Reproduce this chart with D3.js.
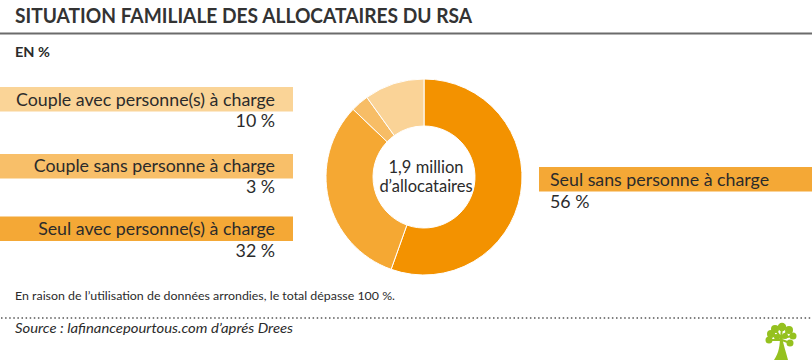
<!DOCTYPE html>
<html><head><meta charset="utf-8">
<script src="https://cdn.jsdelivr.net/npm/d3@7"></script>
<style>
html,body{margin:0;padding:0;background:#fff;}
svg{display:block;font-family:Lato,"Open Sans",sans-serif;}
</style></head>
<body>
<svg id="chart" width="812" height="360"></svg>
<script>
const categories = ["Seul sans personne à charge","Seul avec personne(s) à charge","Couple sans personne à charge","Couple avec personne(s) à charge"];
const values = [56, 32, 3, 10];
const valueLabels = ["56 %","32 %","3 %","10 %"];
const sliceColors = ["#f39200","#f5a833","#f7bd66","#fad397"];
const bandColors = ["#f4a836","#f4a836","#f8bf69","#fad497"];
const title = "SITUATION FAMILIALE DES ALLOCATAIRES DU RSA";
const subtitle = "EN %";
const centerText = ["1,9 million","d’allocataires"];
const footnote = "En raison de l’utilisation de données arrondies, le total dépasse 100 %.";
const source = "Source : lafinancepourtous.com d’aprés Drees";

const svg = d3.select("#chart");
const W = 812, H = 360;
const txt = "#2b2b2b";

// title
svg.append("text").attr("x",15).attr("y",23).attr("font-size",21).attr("font-weight",700)
  .attr("fill","#333").attr("textLength",457).attr("lengthAdjust","spacingAndGlyphs").text(title);
svg.append("rect").attr("x",0).attr("y",32.5).attr("width",W).attr("height",2).attr("fill","#6b6b6b");
svg.append("text").attr("x",15).attr("y",57).attr("font-size",14).attr("font-weight",700).attr("fill",txt)
  .attr("textLength",35).attr("lengthAdjust","spacingAndGlyphs").text(subtitle);

// donut
const cx = 424, cy = 177, rOuter = 98, rInner = 51;
const pie = d3.pie().sort(null).value(d=>d);
const arc = d3.arc().innerRadius(rInner).outerRadius(rOuter);
const g = svg.append("g").attr("transform",`translate(${cx},${cy})`);
g.selectAll("path").data(pie(values)).join("path")
  .attr("d",arc).attr("fill",(d,i)=>sliceColors[i])
  .attr("stroke","#fff").attr("stroke-width",1);
g.selectAll("text.c").data(centerText).join("text").attr("class","c")
  .attr("x",2).attr("y",(d,i)=>-4+i*19).attr("text-anchor","middle")
  .attr("font-size",16.5).attr("fill",txt).text(d=>d);

// left labels (categories index 3,2,1 top->bottom)
const leftItems = [
  {i:3, bandY:87, textY:106, pctY:127},
  {i:2, bandY:154, textY:172, pctY:193},
  {i:1, bandY:216.5, textY:235, pctY:257}
];
leftItems.forEach(it=>{
  svg.append("rect").attr("x",0).attr("y",it.bandY).attr("width",293).attr("height",24.5).attr("fill",bandColors[it.i]);
  svg.append("text").attr("x",275).attr("y",it.textY).attr("text-anchor","end").attr("font-size",17.8)
    .attr("fill",txt).text(categories[it.i]);
  svg.append("text").attr("x",275).attr("y",it.pctY).attr("text-anchor","end").attr("font-size",17.8)
    .attr("fill",txt).text(valueLabels[it.i]);
});
// right label
svg.append("rect").attr("x",539).attr("y",167).attr("width",W-539).attr("height",24.5).attr("fill",bandColors[0]);
svg.append("text").attr("x",550).attr("y",186).attr("font-size",17.8).attr("fill",txt).text(categories[0]);
svg.append("text").attr("x",550).attr("y",208).attr("font-size",17.8).attr("fill",txt).text(valueLabels[0]);

// footnote
svg.append("text").attr("x",15).attr("y",300).attr("font-size",11.5).attr("fill",txt)
  .attr("textLength",380).attr("lengthAdjust","spacingAndGlyphs").text(footnote);
svg.append("line").attr("x1",1).attr("x2",W).attr("y1",318).attr("y2",318)
  .attr("stroke","#555").attr("stroke-width",1.5).attr("stroke-dasharray","1.5,2.6");
svg.append("text").attr("x",15).attr("y",333).attr("font-size",13.5).attr("font-style","italic").attr("fill",txt)
  .attr("textLength",278).attr("lengthAdjust","spacingAndGlyphs").text(source);

// logo (tree)
const lg = svg.append("g").attr("fill","#95c11f").attr("transform","translate(781,340)");
lg.append("path").attr("d","M-7,20 C-2,13 -1,5 -1,-4 L1,-4 C2,4 5,12 7,20 Z");
[[-10,-6,4],[-12,0,3.5],[-6,-11,4],[1,-13,4.2],[8,-10,4],[12,-4,3.5],[9,3,3.5],[-4,-3,3],[4,-4,3]].forEach(c=>{
  lg.append("circle").attr("cx",c[0]).attr("cy",c[1]).attr("r",c[2]);
});
lg.append("path").attr("d","M0,-2 L-9,-6 M0,-2 L-6,-11 M0,-2 L1,-13 M0,-2 L8,-10 M0,-2 L12,-4 M1,0 L9,3 M0,0 L-12,0")
  .attr("stroke","#95c11f").attr("stroke-width",2);
</script>
</body></html>
